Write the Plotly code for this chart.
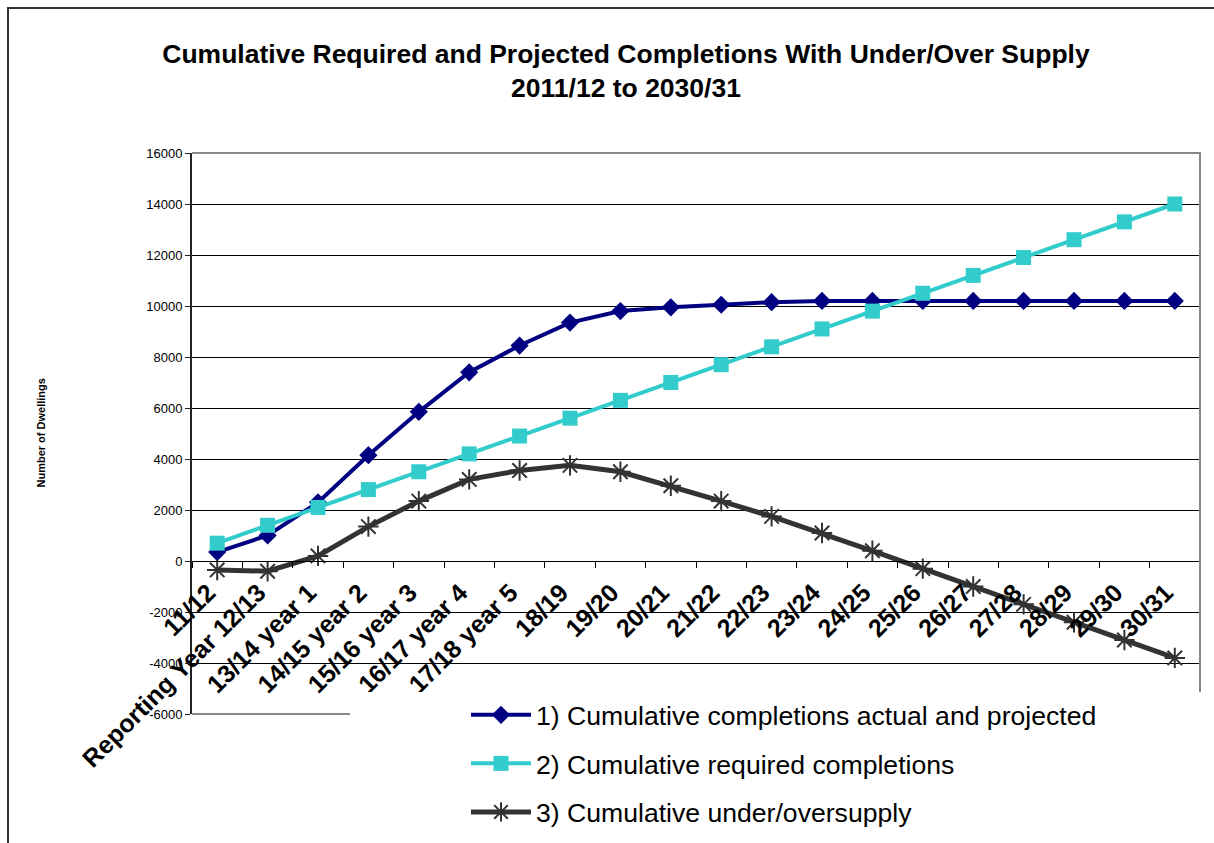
import plotly.graph_objects as go

categories = ["11/12", "Reporting Year 12/13", "13/14 year 1", "14/15 year 2", "15/16 year 3",
              "16/17 year 4", "17/18 year 5", "18/19", "19/20", "20/21", "21/22", "22/23",
              "23/24", "24/25", "25/26", "26/27", "27/28", "28/29", "29/30", "30/31"]

completions = [350, 1000, 2300, 4150, 5850, 7400, 8450, 9350, 9800, 9950,
               10050, 10150, 10200, 10200, 10200, 10200, 10200, 10200, 10200, 10200]
required = [700, 1400, 2100, 2800, 3500, 4200, 4900, 5600, 6300, 7000,
            7700, 8400, 9100, 9800, 10500, 11200, 11900, 12600, 13300, 14000]
under_over = [-350, -400, 200, 1350, 2350, 3200, 3550, 3750, 3500, 2950,
              2350, 1750, 1100, 400, -300, -1000, -1700, -2400, -3100, -3800]

series_names = ["1) Cumulative completions actual and projected",
                "2) Cumulative required completions",
                "3) Cumulative under/oversupply"]
y_ticks = list(range(-6000, 16001, 2000))

FONT = "Arial, Liberation Sans, sans-serif"

fig = go.Figure()
fig.add_trace(go.Scatter(x=categories, y=completions, name=series_names[0], mode="lines+markers",
                         line=dict(color="#000080", width=4),
                         marker=dict(symbol="diamond", size=14, color="#000080"),
                         legendgroup="a"))
fig.add_trace(go.Scatter(x=categories, y=required, name=series_names[1], mode="lines+markers",
                         line=dict(color="#33CCCC", width=4),
                         marker=dict(symbol="square", size=15, color="#33CCCC"),
                         legendgroup="b"))
fig.add_trace(go.Scatter(x=categories, y=under_over, name=series_names[2], mode="lines+markers",
                         line=dict(color="#333333", width=5),
                         marker=dict(symbol="asterisk-open", size=17,
                                     line=dict(color="#333333", width=2)),
                         legendgroup="c"))

fig.update_layout(
    width=1214, height=843,
    margin=dict(l=192, r=14, t=153, b=129, autoexpand=False),
    paper_bgcolor="white", plot_bgcolor="white",
    font=dict(family=FONT, color="black"),
    title=dict(text="Cumulative Required and Projected Completions With Under/Over Supply<br>2011/12 to 2030/31",
               font=dict(family=FONT, size=26.5, color="black", weight="bold"),
               xref="container", x=626 / 1214, xanchor="center",
               yref="container", y=1 - 63 / 843, yanchor="top"),
    showlegend=True,
    legend=dict(x=(466 - 192) / 1008, xanchor="left", y=(714 - 691) / 561, yanchor="top",
                bgcolor="rgba(255,255,255,0)", borderwidth=0,
                font=dict(family=FONT, size=26.6, color="black"),
                traceorder="grouped", tracegroupgap=11, itemwidth=60),
    xaxis=dict(type="category", range=[-0.5, 19.5], autorange=False,
               anchor="free", position=6000 / 22000, automargin=False,
               showline=True, linecolor="black", linewidth=1,
               ticks="outside", ticklen=6, tickcolor="black", tickson="boundaries",
               tickangle=-45, showgrid=False, zeroline=False,
               ticklabelstandoff=6, ticklabelshift=-9,
               tickfont=dict(family=FONT, size=25, color="black", weight="bold")),
    yaxis=dict(range=[-6000, 16000], autorange=False, automargin=False,
               tickvals=y_ticks, ticktext=[str(v) for v in y_ticks],
               showgrid=True, gridcolor="black", gridwidth=1, zeroline=False,
               showline=True, linecolor="#222222", linewidth=2,
               ticks="outside", ticklen=5, tickcolor="#222222",
               tickfont=dict(family=FONT, size=13, color="black")),
    shapes=[
        # plot area border
        dict(type="path", xref="paper", yref="paper",
             path="M 0,1 L 1,1 L 1,0 L 0,0", line=dict(color="#888888", width=2), layer="above"),
        # legend background covering plot-area edge
        dict(type="rect", xref="paper", yref="paper",
             x0=(350 - 192) / 1008, x1=(1214 - 192) / 1008,
             y0=(714 - 850) / 561, y1=(714 - 692) / 561,
             fillcolor="white", line=dict(width=0), layer="above"),
        # outer chart frame (top and left edges)
        dict(type="path", xref="paper", yref="paper",
             path=f"M {(1216 - 192) / 1008},{(714 - 8) / 561} L {(8 - 192) / 1008},{(714 - 8) / 561} L {(8 - 192) / 1008},{(714 - 850) / 561}",
             line=dict(color="#333333", width=2), layer="above"),
    ],
    annotations=[
        dict(text="<b>Number of Dwellings</b>", xref="paper", yref="paper",
             x=(40 - 192) / 1008, y=0.5, textangle=-90, showarrow=False,
             font=dict(family=FONT, size=11, color="black"), xanchor="center", yanchor="middle"),
    ],
)

fig.write_html("out.html")
